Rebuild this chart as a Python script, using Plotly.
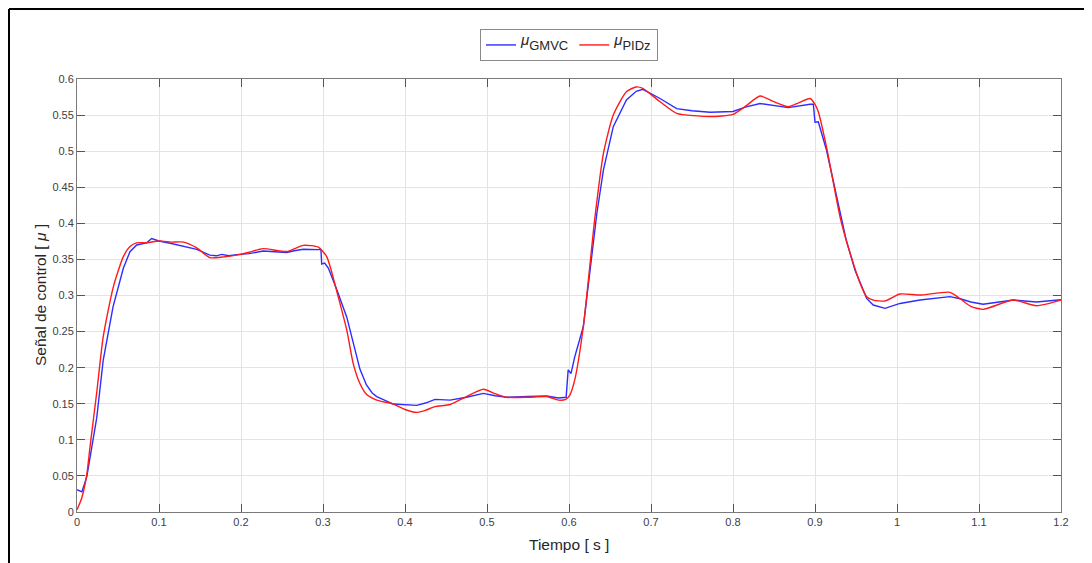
import plotly.graph_objects as go

# ---- data ----
t_gmvc = [0, 0.006, 0.012, 0.016, 0.024, 0.032, 0.044, 0.0565, 0.0646, 0.0728, 0.085, 0.091,
          0.1, 0.115, 0.13, 0.146, 0.162, 0.17, 0.1764, 0.185, 0.1947, 0.21, 0.227, 0.24,
          0.2557, 0.265, 0.276, 0.2943, 0.2975, 0.2984, 0.302, 0.3065, 0.317, 0.329, 0.337,
          0.345, 0.353, 0.36, 0.3655, 0.3857, 0.4142, 0.425, 0.4366, 0.4549, 0.475, 0.4955,
          0.51, 0.524, 0.55, 0.5728, 0.587, 0.5965, 0.599, 0.6025, 0.607, 0.6175, 0.634,
          0.642, 0.654, 0.670, 0.682, 0.690, 0.711, 0.7313, 0.75, 0.772, 0.8, 0.815, 0.833,
          0.849, 0.8675, 0.894, 0.898, 0.9, 0.904, 0.914, 0.926, 0.938, 0.9488, 0.955, 0.963,
          0.971, 0.9854, 1.0037, 1.028, 1.0646, 1.077, 1.09, 1.105, 1.142, 1.17, 1.2]
u_gmvc = [0.031, 0.028, 0.049, 0.075, 0.13, 0.2106, 0.2845, 0.3377, 0.3607, 0.370, 0.373, 0.379,
          0.3755, 0.372, 0.3686, 0.364, 0.356, 0.355, 0.357, 0.355, 0.3566, 0.358, 0.3616, 0.361,
          0.3596, 0.362, 0.364, 0.3636, 0.3636, 0.3436, 0.345, 0.338, 0.3076, 0.27, 0.232,
          0.198, 0.176, 0.165, 0.16, 0.1496, 0.1478, 0.151, 0.156, 0.155, 0.159, 0.1644,
          0.161, 0.159, 0.160, 0.1607, 0.158, 0.159, 0.197, 0.192, 0.215, 0.257, 0.414,
          0.474, 0.534, 0.571, 0.583, 0.5857, 0.573, 0.559, 0.556, 0.554, 0.555, 0.561, 0.566,
          0.5636, 0.5603, 0.565, 0.565, 0.540, 0.5407, 0.5016, 0.437, 0.377, 0.335, 0.317, 0.296,
          0.2868, 0.2822, 0.289, 0.2937, 0.2984, 0.2955, 0.291, 0.2878, 0.2937, 0.291, 0.2942]

t_pidz = [0, 0.0057, 0.0118, 0.0159, 0.024, 0.032, 0.0443, 0.0565, 0.0646, 0.0728, 0.085, 0.1,
          0.115, 0.13, 0.146, 0.162, 0.175, 0.1947, 0.21, 0.227, 0.2557, 0.276, 0.2943, 0.3045,
          0.31, 0.317, 0.329, 0.337, 0.345, 0.353, 0.3655, 0.3857, 0.4, 0.4142, 0.425, 0.4366,
          0.4549, 0.475, 0.4955, 0.51, 0.524, 0.55, 0.5728, 0.587, 0.596, 0.601, 0.607, 0.6175,
          0.6317, 0.642, 0.654, 0.670, 0.682, 0.690, 0.711, 0.7313, 0.772, 0.8, 0.815, 0.833,
          0.849, 0.8675, 0.88, 0.894, 0.9, 0.904, 0.914, 0.9305, 0.938, 0.955, 0.963, 0.971,
          0.9854, 1.0037, 1.028, 1.0646, 1.077, 1.09, 1.105, 1.142, 1.17, 1.2]
u_pidz = [0.003, 0.019, 0.051, 0.0905, 0.165, 0.243, 0.312, 0.3538, 0.368, 0.373, 0.373, 0.3755,
          0.374, 0.374, 0.366, 0.3524, 0.353, 0.356, 0.360, 0.365, 0.361, 0.3695, 0.367, 0.354,
          0.335, 0.305, 0.252, 0.205, 0.178, 0.163, 0.155, 0.1496, 0.142, 0.138, 0.141, 0.146,
          0.149, 0.160, 0.170, 0.164, 0.159, 0.159, 0.160, 0.155, 0.156, 0.162, 0.183, 0.257,
          0.409, 0.497, 0.550, 0.5824, 0.589, 0.587, 0.5685, 0.5524, 0.548, 0.551, 0.562, 0.5764,
          0.569, 0.5616, 0.567, 0.573, 0.565, 0.5547, 0.506, 0.409, 0.377, 0.317, 0.2984, 0.2937,
          0.2924, 0.302, 0.3006, 0.3044, 0.2955, 0.285, 0.2808, 0.2937, 0.2859, 0.2937]

MU = "<sup><span style='font-size:15px'><i>μ</i></span></sup>"
name_gmvc = MU + "GMVC"
name_pidz = MU + "PIDz"
x_title = "Tiempo [ s ]"
y_title = "Señal de control [ <i>μ</i> ]"

FONT = "Liberation Sans, Arial, sans-serif"

fig = go.Figure()
fig.add_trace(go.Scatter(x=t_gmvc, y=u_gmvc, mode="lines", name=name_gmvc,
                         line=dict(color="rgb(45,45,255)", width=1.4)))
fig.add_trace(go.Scatter(x=t_pidz, y=u_pidz, mode="lines", name=name_pidz,
                         line=dict(color="rgb(255,25,25)", width=1.4, shape="spline", smoothing=0.6)))

axis_common = dict(showgrid=True, gridcolor="#e3e3e3", gridwidth=1,
                   showline=True, linecolor="#7a7a7a", linewidth=1, mirror="allticks",
                   ticks="inside", ticklen=8, tickcolor="#555555", tickwidth=1,
                   zeroline=False, tickfont=dict(family=FONT, size=11, color="#404040"))

fig.update_xaxes(range=[0, 1.2], dtick=0.1, tick0=0, **axis_common)
fig.update_yaxes(range=[0, 0.6], dtick=0.05, tick0=0, **axis_common)

OFF = 8  # page body margin
W, H = 1092 - OFF, 563 - OFF
L, T = 77 - OFF, 79 - OFF
pw, ph = 1061 - 77, 512 - 79
R, B = W - L - pw, H - T - ph

def px(xs):
    return (xs - OFF - L) / pw

def py(ys):
    return (T + ph - (ys - OFF)) / ph

fig.update_layout(
    width=W, height=H,
    margin=dict(l=L, r=R, t=T, b=B),
    plot_bgcolor="white", paper_bgcolor="white",
    font=dict(family=FONT, color="#262626"),
    showlegend=True,
    legend=dict(orientation="h", x=px(569), xanchor="center", y=py(29), yanchor="top",
                bgcolor="white", bordercolor="#8a8a8a", borderwidth=1,
                font=dict(family=FONT, size=13, color="#262626"),
                itemwidth=30, tracegroupgap=0),
    annotations=[
        dict(text=x_title, x=px(569), y=py(544), xref="paper", yref="paper",
             showarrow=False, xanchor="center", yanchor="middle",
             font=dict(family=FONT, size=15.5, color="#262626")),
        dict(text=y_title, x=px(40), y=py(295), xref="paper", yref="paper",
             showarrow=False, xanchor="center", yanchor="middle", textangle=-90,
             font=dict(family=FONT, size=15.5, color="#262626")),
    ],
    shapes=[
        dict(type="line", xref="paper", yref="paper", x0=px(9), x1=px(9), y0=py(9), y1=py(570),
             line=dict(color="black", width=2)),
        dict(type="line", xref="paper", yref="paper", x0=px(9), x1=px(1100), y0=py(9), y1=py(9),
             line=dict(color="black", width=2)),
    ],
)

fig.write_html("out.html")
